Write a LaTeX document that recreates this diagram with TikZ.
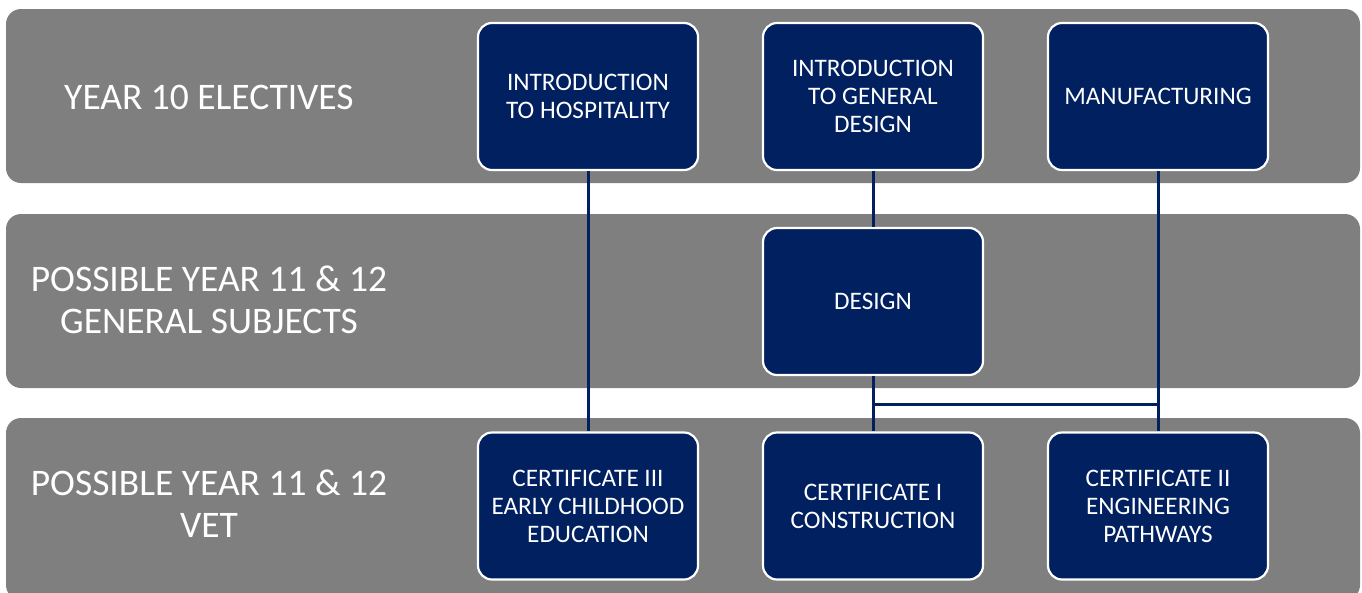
\documentclass[tikz,border=0pt]{standalone}
\usepackage{fontspec}
\setmainfont{Carlito}
\usepackage{tikz}
\usetikzlibrary{calc}
\definecolor{bandgrey}{HTML}{7F7F7F}
\definecolor{navy}{HTML}{002060}
\tikzset{
	band/.style={fill=bandgrey, draw=none, rounded corners=15pt},
	rowlabel/.style={text=white, font=\fontsize{37.5}{42}\selectfont, align=center},
	subject/.style={fill=navy, draw=white, line width=2.2pt, rounded corners=14pt, minimum width=220pt, minimum height=147pt, text=white, align=center, font=\fontsize{25.2}{28}\selectfont},
	link/.style={navy, line width=3pt}
}
\begin{document}
\begin{tikzpicture}[x=1pt, y=-1pt]
			%%%%% START %%%%%
			
			\useasboundingbox (0, 0) rectangle (1362, 592);
			
			\draw[band] (6, 9) rectangle (1360, 183);
			\draw[band] (6, 214) rectangle (1360, 388);
			\draw[band] (6, 418) rectangle (1360, 600);
			
			\node[rowlabel] (y10) at (209, 97) {YEAR 10 ELECTIVES};
			\node[rowlabel] (gen) at (209, 300) {POSSIBLE YEAR 11 \& 12\\GENERAL SUBJECTS};
			\node[rowlabel] (vet) at (209, 504) {POSSIBLE YEAR 11 \& 12\\VET};
			
			\node[subject] (hosp) at (588, 96.5) {INTRODUCTION\\TO HOSPITALITY};
			\node[subject] (gdes) at (873, 96.5) {INTRODUCTION\\TO GENERAL\\DESIGN};
			\node[subject] (manu) at (1158, 96.5) {MANUFACTURING};
			
			\node[subject] (design) at (873, 301.5) {DESIGN};
			
			\node[subject] (ece) at (588, 506) {CERTIFICATE III\\EARLY CHILDHOOD\\EDUCATION};
			\node[subject] (cons) at (873, 506) {CERTIFICATE I\\CONSTRUCTION};
			\node[subject] (eng) at (1158, 506) {CERTIFICATE II\\ENGINEERING\\PATHWAYS};
			
			\coordinate (jl) at (873, 404);
			\coordinate (jr) at (1158, 404);
			
			\draw[link] (hosp.south) -- (ece.north);
			\draw[link] (gdes.south) -- (design.north);
			\draw[link] (design.south) -- (cons.north);
			\draw[link] (manu.south) -- (eng.north);
			\draw[link] (jl) -- (jr);
			
			%%%%% END %%%%%
		\end{tikzpicture}
\end{document}
